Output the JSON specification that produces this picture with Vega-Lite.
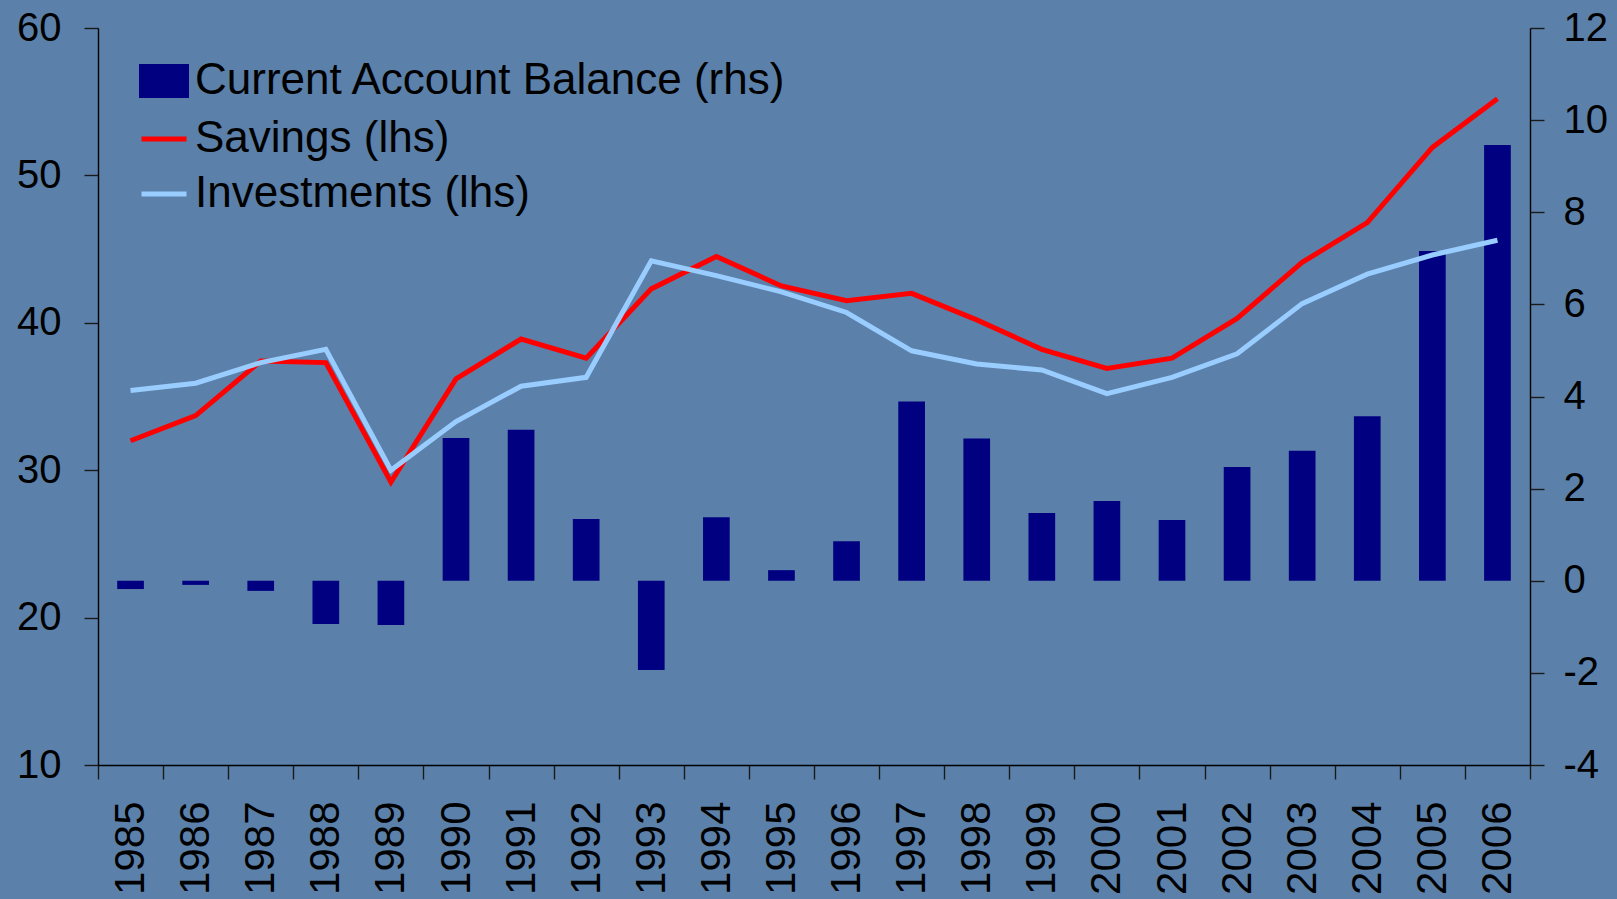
{
  "$schema": "https://vega.github.io/schema/vega-lite/v6.json",
  "width": 1432,
  "height": 737,
  "autosize": "none",
  "padding": {"left": 98, "top": 28, "right": 87, "bottom": 134},
  "background": "#5b80aa",
  "config": {
    "view": {"stroke": null},
    "font": "Liberation Sans",
    "axis": {"grid": false, "domainColor": "#000000", "domainWidth": 1.4, "tickColor": "#1a1a1a", "tickWidth": 1.4, "tickSize": 14, "labelColor": "#000000", "labelFont": "Liberation Sans", "title": null}
  },
  "data": {
    "values": [
      {"year": "1985", "series": "Current Account Balance (rhs)", "value": -0.18},
      {"year": "1986", "series": "Current Account Balance (rhs)", "value": -0.09},
      {"year": "1987", "series": "Current Account Balance (rhs)", "value": -0.22},
      {"year": "1988", "series": "Current Account Balance (rhs)", "value": -0.94},
      {"year": "1989", "series": "Current Account Balance (rhs)", "value": -0.96},
      {"year": "1990", "series": "Current Account Balance (rhs)", "value": 3.1},
      {"year": "1991", "series": "Current Account Balance (rhs)", "value": 3.28},
      {"year": "1992", "series": "Current Account Balance (rhs)", "value": 1.34},
      {"year": "1993", "series": "Current Account Balance (rhs)", "value": -1.94},
      {"year": "1994", "series": "Current Account Balance (rhs)", "value": 1.38},
      {"year": "1995", "series": "Current Account Balance (rhs)", "value": 0.23},
      {"year": "1996", "series": "Current Account Balance (rhs)", "value": 0.86},
      {"year": "1997", "series": "Current Account Balance (rhs)", "value": 3.89},
      {"year": "1998", "series": "Current Account Balance (rhs)", "value": 3.09},
      {"year": "1999", "series": "Current Account Balance (rhs)", "value": 1.47},
      {"year": "2000", "series": "Current Account Balance (rhs)", "value": 1.73},
      {"year": "2001", "series": "Current Account Balance (rhs)", "value": 1.32},
      {"year": "2002", "series": "Current Account Balance (rhs)", "value": 2.47},
      {"year": "2003", "series": "Current Account Balance (rhs)", "value": 2.82},
      {"year": "2004", "series": "Current Account Balance (rhs)", "value": 3.57},
      {"year": "2005", "series": "Current Account Balance (rhs)", "value": 7.16},
      {"year": "2006", "series": "Current Account Balance (rhs)", "value": 9.46},
      {"year": "1985", "series": "Savings (lhs)", "value": 32.0},
      {"year": "1986", "series": "Savings (lhs)", "value": 33.7},
      {"year": "1987", "series": "Savings (lhs)", "value": 37.4},
      {"year": "1988", "series": "Savings (lhs)", "value": 37.3},
      {"year": "1989", "series": "Savings (lhs)", "value": 29.2},
      {"year": "1990", "series": "Savings (lhs)", "value": 36.2},
      {"year": "1991", "series": "Savings (lhs)", "value": 38.9},
      {"year": "1992", "series": "Savings (lhs)", "value": 37.6},
      {"year": "1993", "series": "Savings (lhs)", "value": 42.3},
      {"year": "1994", "series": "Savings (lhs)", "value": 44.5},
      {"year": "1995", "series": "Savings (lhs)", "value": 42.5},
      {"year": "1996", "series": "Savings (lhs)", "value": 41.5},
      {"year": "1997", "series": "Savings (lhs)", "value": 42.0},
      {"year": "1998", "series": "Savings (lhs)", "value": 40.2},
      {"year": "1999", "series": "Savings (lhs)", "value": 38.2},
      {"year": "2000", "series": "Savings (lhs)", "value": 36.9},
      {"year": "2001", "series": "Savings (lhs)", "value": 37.6},
      {"year": "2002", "series": "Savings (lhs)", "value": 40.3},
      {"year": "2003", "series": "Savings (lhs)", "value": 44.1},
      {"year": "2004", "series": "Savings (lhs)", "value": 46.8},
      {"year": "2005", "series": "Savings (lhs)", "value": 51.9},
      {"year": "2006", "series": "Savings (lhs)", "value": 55.2},
      {"year": "1985", "series": "Investments (lhs)", "value": 35.4},
      {"year": "1986", "series": "Investments (lhs)", "value": 35.9},
      {"year": "1987", "series": "Investments (lhs)", "value": 37.3},
      {"year": "1988", "series": "Investments (lhs)", "value": 38.2},
      {"year": "1989", "series": "Investments (lhs)", "value": 30.0},
      {"year": "1990", "series": "Investments (lhs)", "value": 33.3},
      {"year": "1991", "series": "Investments (lhs)", "value": 35.7},
      {"year": "1992", "series": "Investments (lhs)", "value": 36.3},
      {"year": "1993", "series": "Investments (lhs)", "value": 44.2},
      {"year": "1994", "series": "Investments (lhs)", "value": 43.2},
      {"year": "1995", "series": "Investments (lhs)", "value": 42.1},
      {"year": "1996", "series": "Investments (lhs)", "value": 40.7},
      {"year": "1997", "series": "Investments (lhs)", "value": 38.1},
      {"year": "1998", "series": "Investments (lhs)", "value": 37.2},
      {"year": "1999", "series": "Investments (lhs)", "value": 36.8},
      {"year": "2000", "series": "Investments (lhs)", "value": 35.2},
      {"year": "2001", "series": "Investments (lhs)", "value": 36.3},
      {"year": "2002", "series": "Investments (lhs)", "value": 37.9},
      {"year": "2003", "series": "Investments (lhs)", "value": 41.3},
      {"year": "2004", "series": "Investments (lhs)", "value": 43.3},
      {"year": "2005", "series": "Investments (lhs)", "value": 44.6},
      {"year": "2006", "series": "Investments (lhs)", "value": 45.6}
    ]
  },
  "encoding": {
    "x": {
      "field": "year", "type": "ordinal",
      "scale": {"paddingInner": 0, "paddingOuter": 0},
      "axis": {"tickBand": "extent", "labelAngle": 270, "labelFontSize": 42, "labelPadding": 22, "domain": true}
    },
    "color": {
      "field": "series", "type": "nominal",
      "scale": {"domain": ["Current Account Balance (rhs)", "Savings (lhs)", "Investments (lhs)"], "range": ["#000080", "#ff0000", "#99ccff"]},
      "legend": {
        "orient": "none", "legendX": 41, "legendY": 28, "title": null, "padding": 0,
        "labelFontSize": 44, "labelColor": "#000000", "labelFont": "Liberation Sans",
        "labelOffset": 6, "rowPadding": 8, "symbolSize": 2025, "labelLimit": 1000,
        "encode": {
          "symbols": {
            "update": {
              "shape": {"signal": "datum.value === 'Current Account Balance (rhs)' ? 'M-1,-0.644H1V0.644H-1Z' : 'stroke'"},
              "fill": {"signal": "datum.value === 'Current Account Balance (rhs)' ? '#000080' : 'transparent'"},
              "stroke": {"signal": "datum.value === 'Current Account Balance (rhs)' ? 'transparent' : (datum.value === 'Savings (lhs)' ? '#ff0000' : '#99ccff')"},
              "strokeWidth": {"value": 5},
              "opacity": {"value": 1}
            }
          }
        }
      }
    }
  },
  "layer": [
    {
      "transform": [{"filter": "datum.series === 'Current Account Balance (rhs)'"}],
      "mark": {"type": "bar", "width": {"band": 0.41}},
      "encoding": {
        "y": {
          "field": "value", "type": "quantitative",
          "scale": {"domain": [-4, 12], "nice": false, "zero": false},
          "axis": {"orient": "right", "values": [-4, -2, 0, 2, 4, 6, 8, 10, 12], "labelExpr": "toString(datum.value)", "labelFontSize": 40, "labelPadding": 19}
        }
      }
    },
    {
      "transform": [{"filter": "datum.series !== 'Current Account Balance (rhs)'"}],
      "mark": {"type": "line", "strokeWidth": 5, "strokeJoin": "miter"},
      "encoding": {
        "y": {
          "field": "value", "type": "quantitative",
          "scale": {"domain": [10, 60], "nice": false, "zero": false},
          "axis": {"orient": "left", "values": [10, 20, 30, 40, 50, 60], "labelFontSize": 40, "labelPadding": 23}
        },
        "detail": {"field": "series"}
      }
    }
  ],
  "resolve": {"scale": {"y": "independent"}, "axis": {"y": "independent"}}
}
